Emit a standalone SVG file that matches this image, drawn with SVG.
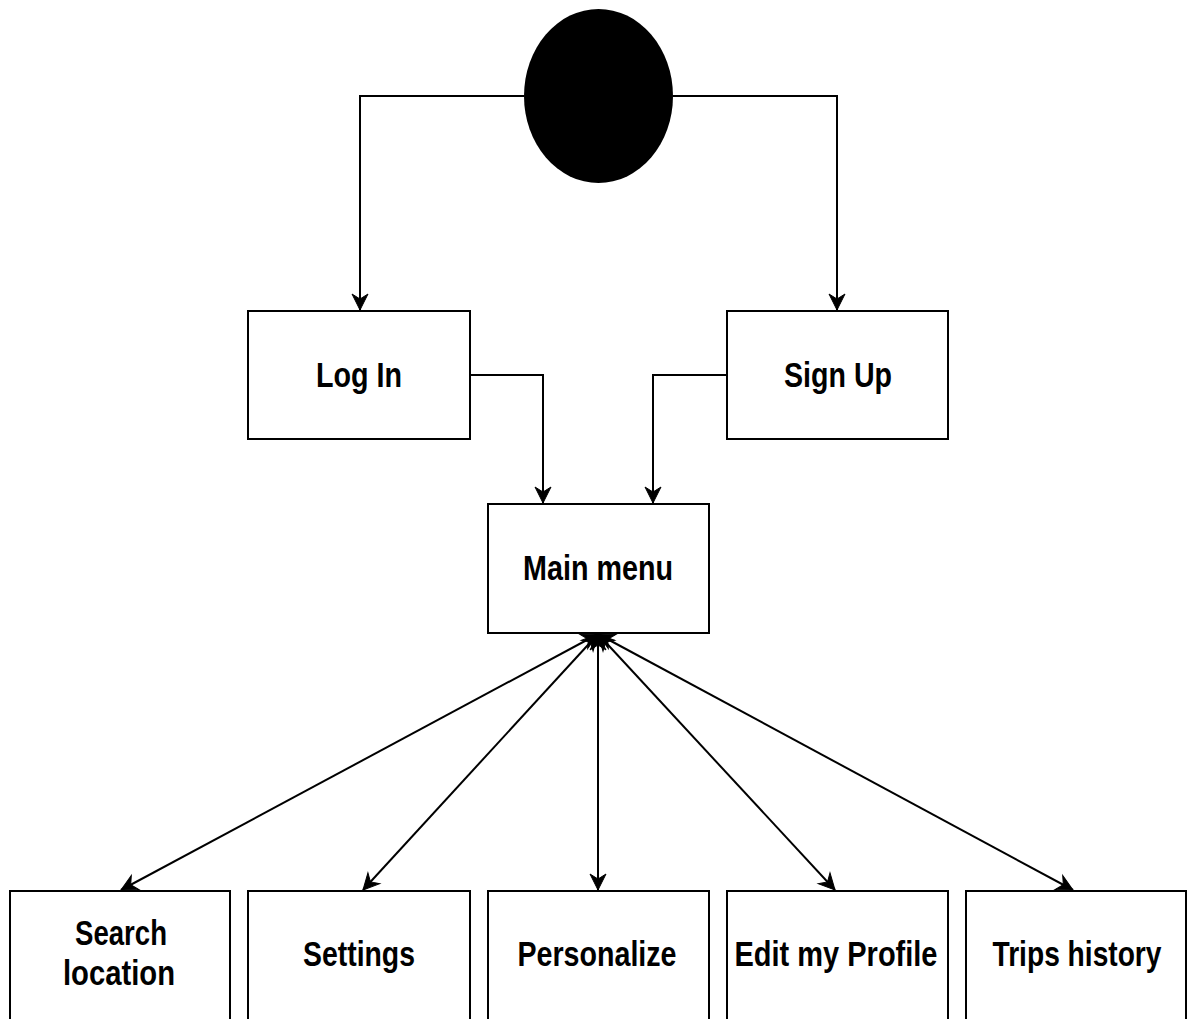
<svg xmlns="http://www.w3.org/2000/svg" width="1187" height="1019" viewBox="0 0 1187 1019">
  <style>
    .box { fill: #ffffff; stroke: #000000; stroke-width: 2; }
    .lbl { font-family: "Liberation Sans", Arial, Helvetica, sans-serif; font-weight: bold; font-size: 35px; fill: #000000; text-anchor: middle; }
    .edge { fill: none; stroke: #000000; stroke-width: 2; }
  </style>
  <defs>
    <marker id="arrow" viewBox="-18 -10 20 20" refX="0" refY="0" markerWidth="20" markerHeight="20" markerUnits="userSpaceOnUse" orient="auto-start-reverse">
      <path d="M0,0 L-16,-8 L-11,0 L-16,8 Z" fill="#000000" stroke="#000000" stroke-width="1"/>
    </marker>
  </defs>

  <rect width="1187" height="1019" fill="#ffffff"/>

  <g id="connectors">
    <path class="edge" d="M524,96 H360 V310" marker-end="url(#arrow)"/>
    <path class="edge" d="M673,96 H837 V310" marker-end="url(#arrow)"/>
    <path class="edge" d="M470,375 H543 V503" marker-end="url(#arrow)"/>
    <path class="edge" d="M727,375 H653 V503" marker-end="url(#arrow)"/>
    <path class="edge" d="M598,634 L121,890" marker-start="url(#arrow)" marker-end="url(#arrow)"/>
    <path class="edge" d="M598,634 L363,890" marker-start="url(#arrow)" marker-end="url(#arrow)"/>
    <path class="edge" d="M598,634 L598,890" marker-start="url(#arrow)" marker-end="url(#arrow)"/>
    <path class="edge" d="M598,634 L835,890" marker-start="url(#arrow)" marker-end="url(#arrow)"/>
    <path class="edge" d="M598,634 L1073,890" marker-start="url(#arrow)" marker-end="url(#arrow)"/>
  </g>

  <g id="start">
    <ellipse cx="598.5" cy="96" rx="74.5" ry="87" fill="#000000"/>
  </g>

  <g id="login">
    <rect class="box" x="248" y="311" width="222" height="128"/>
    <text class="lbl" x="359" y="387" textLength="86" lengthAdjust="spacingAndGlyphs">Log In</text>
  </g>

  <g id="signup">
    <rect class="box" x="727" y="311" width="221" height="128"/>
    <text class="lbl" x="838" y="387" textLength="108" lengthAdjust="spacingAndGlyphs">Sign Up</text>
  </g>

  <g id="main-menu">
    <rect class="box" x="488" y="504" width="221" height="129"/>
    <text class="lbl" x="598" y="580" textLength="150" lengthAdjust="spacingAndGlyphs">Main menu</text>
  </g>

  <g id="search-location">
    <rect class="box" x="10" y="891" width="220" height="130"/>
    <text class="lbl" x="121" y="945" textLength="92" lengthAdjust="spacingAndGlyphs">Search</text>
    <text class="lbl" x="119" y="985" textLength="112" lengthAdjust="spacingAndGlyphs">location</text>
  </g>

  <g id="settings">
    <rect class="box" x="248" y="891" width="222" height="130"/>
    <text class="lbl" x="359" y="966" textLength="112" lengthAdjust="spacingAndGlyphs">Settings</text>
  </g>

  <g id="personalize">
    <rect class="box" x="488" y="891" width="221" height="130"/>
    <text class="lbl" x="597" y="966" textLength="159" lengthAdjust="spacingAndGlyphs">Personalize</text>
  </g>

  <g id="edit-profile">
    <rect class="box" x="727" y="891" width="221" height="130"/>
    <text class="lbl" x="836" y="966" textLength="203" lengthAdjust="spacingAndGlyphs">Edit my Profile</text>
  </g>

  <g id="trips-history">
    <rect class="box" x="966" y="891" width="220" height="130"/>
    <text class="lbl" x="1077" y="966" textLength="169" lengthAdjust="spacingAndGlyphs">Trips history</text>
  </g>
</svg>
